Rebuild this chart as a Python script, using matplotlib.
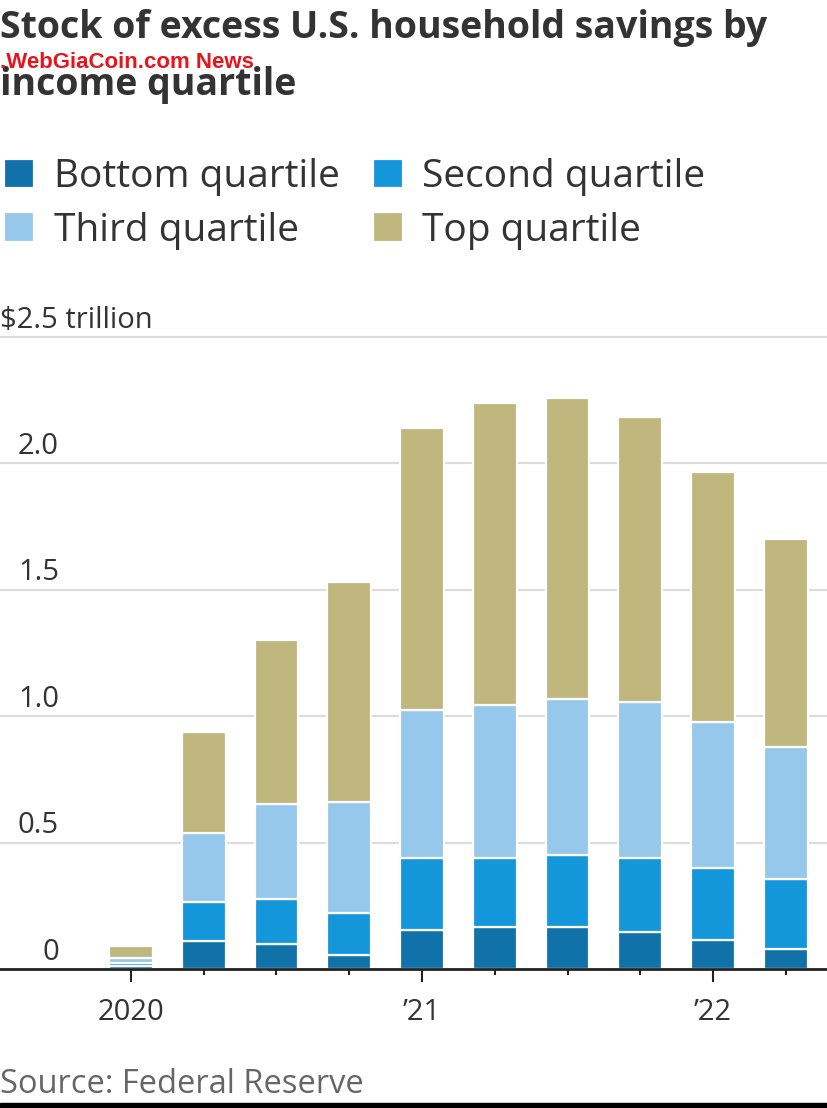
import numpy as np
import matplotlib
matplotlib.use("Agg")
import matplotlib.pyplot as plt
from matplotlib.patches import Rectangle
from matplotlib import font_manager

# fonts
names = set(f.name for f in font_manager.fontManager.ttflist)
narrow = 'Liberation Sans Narrow' if 'Liberation Sans Narrow' in names else 'Liberation Sans'
plt.rcParams['font.family'] = ['Open Sans', 'DejaVu Sans']

# data: stock of excess savings, $ trillion, by quarter
quarters = ['2020Q1', '2020Q2', '2020Q3', '2020Q4', '2021Q1', '2021Q2',
            '2021Q3', '2021Q4', '2022Q1', '2022Q2']
tick_labels = ['2020', '', '', '', '\u201921', '', '', '', '\u201922', '']
bottom_q = [0.012, 0.110, 0.100, 0.057, 0.154, 0.167, 0.167, 0.146, 0.115, 0.080]
second_q = [0.012, 0.154, 0.175, 0.163, 0.286, 0.273, 0.283, 0.294, 0.285, 0.275]
third_q = [0.021, 0.272, 0.376, 0.441, 0.582, 0.602, 0.616, 0.614, 0.577, 0.524]
top_q = [0.045, 0.402, 0.649, 0.869, 1.115, 1.194, 1.192, 1.126, 0.986, 0.821]

series = [bottom_q, second_q, third_q, top_q]
labels = ['Bottom quartile', 'Second quartile', 'Third quartile', 'Top quartile']
colors = ['#1072a8', '#1496db', '#96c8ec', '#bfb77e']

y_ticks = [0, 0.5, 1.0, 1.5, 2.0, 2.5]
y_labels = ['0', '0.5', '1.0', '1.5', '2.0', '$2.5 trillion']

W, H = 828, 1108
fig = plt.figure(figsize=(W / 100, H / 100), dpi=100)
ymax = 2.52
ax = fig.add_axes([0, 139 / H, 1, ymax * 253 / H])

x = np.arange(len(quarters))
base = np.zeros(len(x))
bars = []
for vals, c, lab in zip(series, colors, labels):
    b = ax.bar(x, vals, 0.6, bottom=base, color=c, edgecolor='white',
               linewidth=1.6, label=lab, zorder=3)
    bars.append(b)
    base = base + np.array(vals)

ax.set_xlim(-1.8, 9.58)
ax.set_ylim(0, ymax)

# grid
ax.set_yticks(y_ticks[1:])
ax.yaxis.grid(True, color='#dcdcdc', linewidth=1.6, zorder=0)
ax.tick_params(axis='y', length=0, labelleft=False)
for v, t in zip(y_ticks, y_labels):
    if v == 2.5:
        ax.text(0.0, v + 0.032, t, transform=ax.get_yaxis_transform(),
                ha='left', va='baseline', fontsize=21, color='#333333')
    else:
        ax.text(59 / W, v + 0.036, t, transform=ax.get_yaxis_transform(),
                ha='right', va='baseline', fontsize=21, color='#333333')

for s in ['top', 'left', 'right']:
    ax.spines[s].set_visible(False)
ax.spines['bottom'].set_linewidth(2)
ax.spines['bottom'].set_color('#222222')
ax.spines['bottom'].set_zorder(4)

major = [i for i, t in enumerate(tick_labels) if t]
minor = [i for i, t in enumerate(tick_labels) if not t]
ax.set_xticks(major)
ax.set_xticklabels([tick_labels[i] for i in major])
ax.set_xticks(minor, minor=True)
ax.tick_params(axis='x', which='major', length=9, width=1.5, color='#222222',
               pad=12, labelsize=21, labelcolor='#333333')
ax.tick_params(axis='x', which='minor', length=4.5, width=1.5, color='#222222')

# title
fig.text(0.0, 1 - 38 / H, 'Stock of excess U.S. household savings by',
         fontsize=27, fontweight='bold', color='#333333', va='baseline', ha='left')
fig.text(0.0, 1 - 95 / H, 'income quartile',
         fontsize=27, fontweight='bold', color='#333333', va='baseline', ha='left')
fig.text(0.0, 1 - 68 / H, '.WebGiaCoin.com News', family=[narrow, 'DejaVu Sans'],
         fontsize=16, fontweight='bold', color='#e8141c', va='baseline', ha='left')

# legend
order = [0, 2, 1, 3]
fig.legend([bars[i] for i in order], [labels[i] for i in order], ncol=2,
           loc='upper left', bbox_to_anchor=(4 / W, 1 - 158 / H), frameon=False,
           fontsize=28, handlelength=0.78, handleheight=0.78, handletextpad=0.5,
           columnspacing=0.85, labelspacing=0.4, borderpad=0, borderaxespad=0,
           labelcolor='#333333')

fig.text(0.0, 1 - 1093 / H, 'Source: Federal Reserve', fontsize=23.5,
         color='#666666', va='baseline', ha='left')
fig.add_artist(Rectangle((0, 0), 1, 5 / H, transform=fig.transFigure,
                         color='black'))

fig.savefig('out.png', dpi=100)
